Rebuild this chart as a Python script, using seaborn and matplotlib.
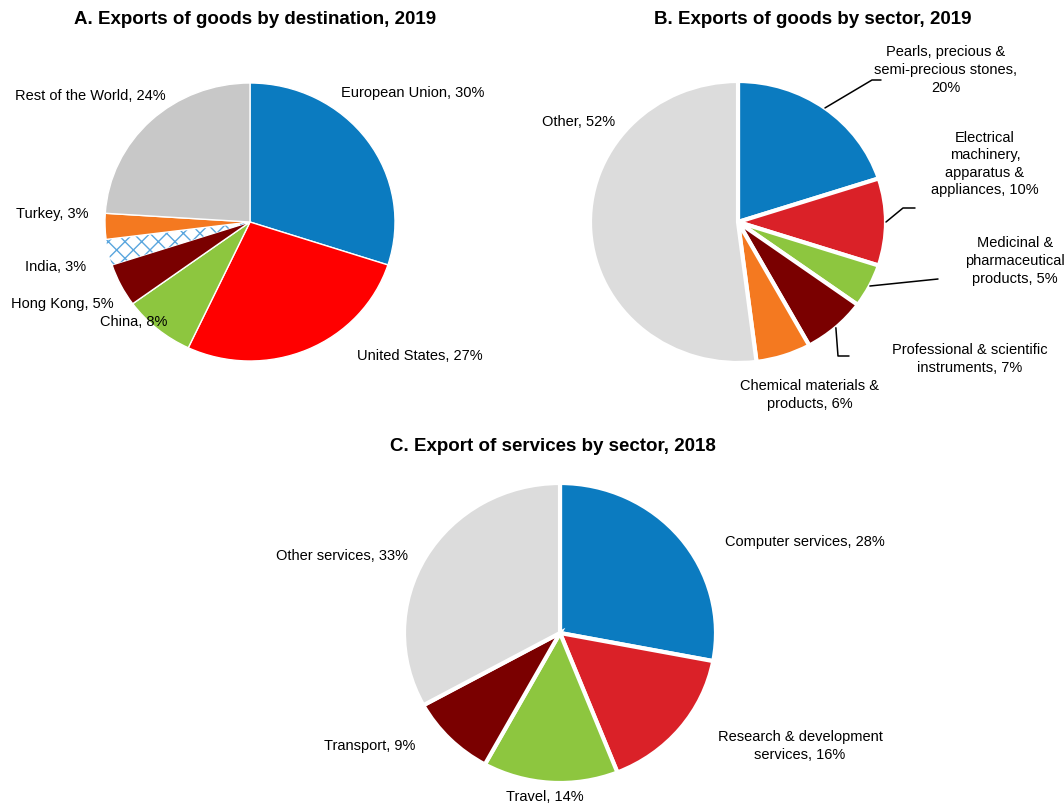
import numpy as np
import matplotlib
matplotlib.use("Agg")
import matplotlib.pyplot as plt
import seaborn as sns

# ---------------- data ----------------
dest_labels = ["European Union", "United States", "China", "Hong Kong", "India", "Turkey", "Rest of the World"]
dest_values = [30, 27, 8, 5, 3, 3, 24]

sector_labels = ["Pearls, precious &\nsemi-precious stones,", "Electrical\nmachinery,\napparatus &\nappliances,",
                 "Medicinal &\npharmaceutical\nproducts,", "Professional & scientific\ninstruments,",
                 "Chemical materials &\nproducts,", "Other,"]
sector_values = [20, 10, 5, 7, 6, 52]

serv_labels = ["Computer services,", "Research & development\nservices,", "Travel,", "Transport,", "Other services,"]
serv_values = [28, 16, 14, 9, 33]

titles = ["A. Exports of goods by destination, 2019",
          "B. Exports of goods by sector, 2019",
          "C. Export of services by sector, 2018"]

# ---------------- style ----------------
sns.set_theme(style="white")
plt.rcParams["font.family"] = ["Liberation Sans", "DejaVu Sans"]
plt.rcParams["text.color"] = "black"

BLUE = "#0B7BC0"
RED_A = "#FF0000"
RED = "#DA2128"
GREEN = "#8DC63F"
DRED = "#7A0000"
ORANGE = "#F47920"
GREY_A = "#C8C8C8"
GREY = "#DCDCDC"
HATCH_BLUE = "#5AA6DE"

W, H = 1064, 804
fig = plt.figure(figsize=(W / 100, H / 100), dpi=100)
FS = 10.5
TFS = 13.5


def pie_axes(cx, cy, rx, ry):
    return fig.add_axes([(cx - rx) / W, 1 - (cy + ry) / H, 2 * rx / W, 2 * ry / H])


def finish(ax):
    ax.set_xlim(-1, 1)
    ax.set_ylim(-1, 1)
    ax.set_aspect("auto")
    ax.axis("off")


def ftext(x, y, s, **kw):
    kw.setdefault("fontsize", FS)
    kw.setdefault("ha", "center")
    kw.setdefault("va", "center")
    kw.setdefault("linespacing", 1.32)
    fig.text(x / W, 1 - y / H, s, **kw)


def leader(ax, wedge, cx, cy, rx, ry, pts):
    ang = np.deg2rad((wedge.theta1 + wedge.theta2) / 2)
    xs = [np.cos(ang)] + [(px - cx) / rx for px, py in pts]
    ys = [np.sin(ang)] + [(cy - py) / ry for px, py in pts]
    ax.plot(xs, ys, color="black", lw=1.1, clip_on=False)


# ---------------- A ----------------
cxA, cyA, rxA, ryA = 250, 223, 145, 139
axA = pie_axes(cxA, cyA, rxA, ryA)
colsA = [BLUE, RED_A, GREEN, DRED, "white", ORANGE, GREY_A]
wA, _ = axA.pie(dest_values, colors=colsA, startangle=90, counterclock=False,
                wedgeprops=dict(edgecolor="white", linewidth=1.0))
india = wA[4]
india.set_hatch("xx")
india.set_edgecolor(HATCH_BLUE)
india.set_linewidth(0)
finish(axA)

posA = [(413, 93), (420, 356), (134, 322), (62, 304), (56, 267), (52, 214), (90, 96)]
for lab, v, (x, y) in zip(dest_labels, dest_values, posA):
    ftext(x, y, f"{lab}, {v}%")
ftext(255, 20, titles[0], fontsize=TFS, fontweight="bold")

# ---------------- B ----------------
cxB, cyB, rxB, ryB = 738, 223, 148, 141
axB = pie_axes(cxB, cyB, rxB, ryB)
colsB = [BLUE, RED, GREEN, DRED, ORANGE, GREY]
wB, _ = axB.pie(sector_values, colors=colsB, startangle=90, counterclock=False,
                wedgeprops=dict(edgecolor="white", linewidth=3.0))
finish(axB)

posB = [(946, 70), (985, 164), (1015, 261), (970, 359), (810, 395), (579, 122)]
for lab, v, (x, y) in zip(sector_labels, sector_values, posB):
    if "Pearls" in lab:
        s = f"{lab}\n{v}%"
    else:
        s = f"{lab} {v}%"
    ftext(x, y, s)

leader(axB, wB[0], cxB, cyB, rxB, ryB, [(872, 81), (881, 81)])
leader(axB, wB[1], cxB, cyB, rxB, ryB, [(903, 209), (915, 209)])
leader(axB, wB[2], cxB, cyB, rxB, ryB, [(938, 280)])
leader(axB, wB[3], cxB, cyB, rxB, ryB, [(838, 357), (849, 357)])
ftext(813, 20, titles[1], fontsize=TFS, fontweight="bold")

# ---------------- C ----------------
cxC, cyC, rxC, ryC = 560, 634, 156, 150
axC = pie_axes(cxC, cyC, rxC, ryC)
colsC = [BLUE, RED, GREEN, DRED, GREY]
wC, _ = axC.pie(serv_values, colors=colsC, startangle=90, counterclock=False,
                wedgeprops=dict(edgecolor="white", linewidth=3.0))
finish(axC)

posC = [(805, 542), (800, 746), (545, 797), (370, 746), (342, 556)]
for lab, v, (x, y) in zip(serv_labels, serv_values, posC):
    ftext(x, y, f"{lab} {v}%")
ftext(553, 447, titles[2], fontsize=TFS, fontweight="bold")

fig.savefig("out.png", dpi=100, facecolor="white")
